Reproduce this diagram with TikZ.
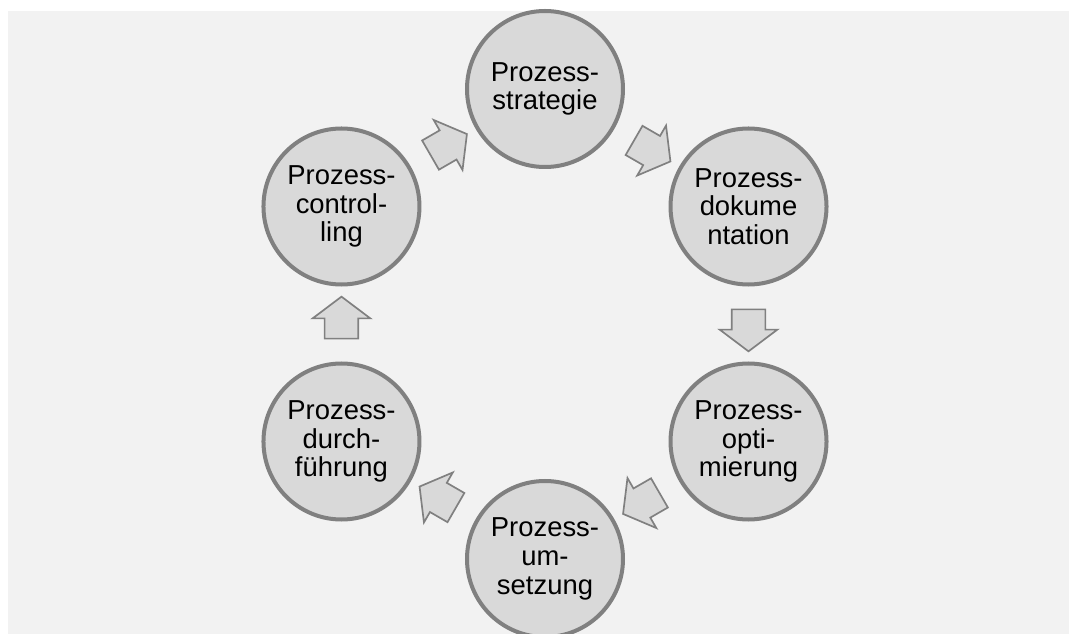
\documentclass[tikz,border=0pt]{standalone}
\usepackage{fontspec}
\setmainfont{Liberation Sans}
\usetikzlibrary{shapes.arrows}

\definecolor{bgray}{HTML}{F2F2F2}
\definecolor{cfill}{HTML}{D9D9D9}
\definecolor{cline}{HTML}{808080}

\begin{document}
\begin{tikzpicture}[
  ph/.style={circle, draw=cline, line width=2.85pt, fill=cfill, minimum size=3.9cm,
             inner sep=0pt, align=center, font=\fontsize{19.5}{20.4}\selectfont},
  blk/.style={single arrow, draw=cline, line width=1.2pt, fill=cfill,
              inner xsep=0pt, inner ysep=0.4cm, minimum width=0pt, minimum height=1.05cm,
              single arrow head extend=0.3cm, single arrow tip angle=106,
              sloped, allow upside down}]

  \useasboundingbox (-13.625,-7.75) rectangle (13.1,8.1);
  \fill[bgray] (-13.425,-7.75) rectangle (13.1,7.825);

  \node[ph] (str) at (90:5.875)   {Prozess-\\strategie};
  \node[ph] (dok) at (30:5.875)   {Prozess-\\dokume\\ntation};
  \node[ph] (opt) at (-30:5.875)  {Prozess-\\opti-\\mierung};
  \node[ph] (ums) at (-90:5.875)  {Prozess-\\um-\\setzung};
  \node[ph] (dur) at (-150:5.875) {Prozess-\\durch-\\führung};
  \node[ph] (con) at (150:5.875)  {Prozess-\\control-\\ling};

  \path (str) -- node[blk] (a1) {} (dok);
  \path (dok) -- node[blk] (a2) {} (opt);
  \path (opt) -- node[blk] (a3) {} (ums);
  \path (ums) -- node[blk] (a4) {} (dur);
  \path (dur) -- node[blk] (a5) {} (con);
  \path (con) -- node[blk] (a6) {} (str);
\end{tikzpicture}
\end{document}
